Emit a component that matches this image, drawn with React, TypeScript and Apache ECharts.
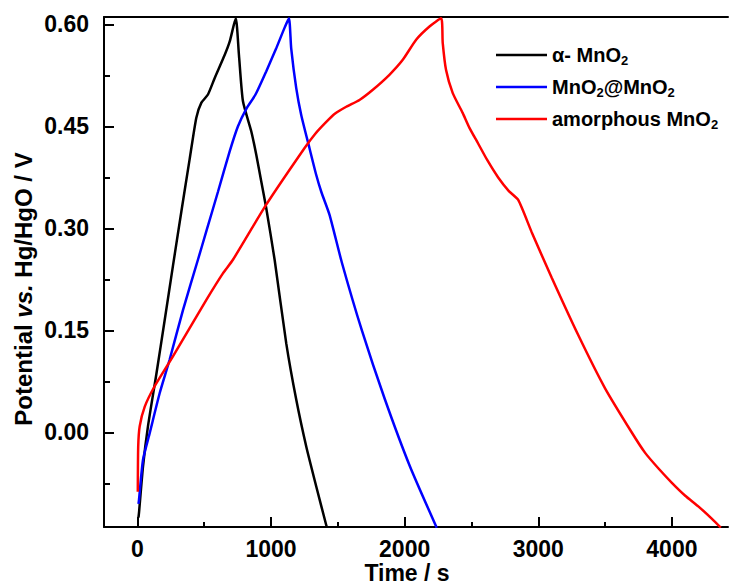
import React, { useEffect, useRef } from 'react';
import * as echarts from 'echarts';

// ---- data ----
const seriesNames = ['α- MnO2', 'MnO2@MnO2', 'amorphous MnO2'];
const seriesColors = ['#000000', '#0000ff', '#ff0000'];

const alphaTime = [8, 12, 42, 79, 142, 204, 266, 329, 391, 441, 479, 528, 578, 653, 691, 736, 760, 790, 852, 890, 927, 964, 1027, 1114, 1189, 1264, 1338, 1413, 1420];
const alphaPotential = [-0.125, -0.118, -0.05, 0.009, 0.086, 0.165, 0.245, 0.325, 0.402, 0.463, 0.485, 0.497, 0.521, 0.555, 0.575, 0.609, 0.555, 0.487, 0.443, 0.408, 0.369, 0.33, 0.254, 0.131, 0.048, -0.021, -0.079, -0.136, -0.14];

const coreShellTime = [8, 12, 42, 92, 167, 241, 341, 453, 516, 603, 690, 752, 815, 884, 964, 1039, 1101, 1134, 1151, 1189, 1226, 1288, 1338, 1376, 1438, 1530, 1680, 1850, 2040, 2240];
const coreShellPotential = [-0.105, -0.099, -0.04, -0.001, 0.058, 0.107, 0.18, 0.254, 0.296, 0.354, 0.413, 0.45, 0.476, 0.497, 0.531, 0.565, 0.595, 0.609, 0.565, 0.506, 0.467, 0.418, 0.379, 0.354, 0.32, 0.25, 0.15, 0.05, -0.05, -0.14];

const amorphousTime = [3, 6, 17, 55, 129, 266, 516, 640, 715, 964, 1250, 1330, 1410, 1480, 1563, 1662, 1762, 1886, 1986, 2086, 2186, 2273, 2285, 2310, 2360, 2434, 2485, 2550, 2620, 2700, 2780, 2850, 2950, 3100, 3300, 3500, 3700, 3800, 3900, 4000, 4100, 4200, 4300, 4366];
const amorphousPotential = [-0.087, -0.021, 0.009, 0.038, 0.068, 0.112, 0.195, 0.234, 0.254, 0.335, 0.418, 0.439, 0.456, 0.469, 0.479, 0.489, 0.504, 0.526, 0.548, 0.5775, 0.597, 0.609, 0.573, 0.533, 0.499, 0.47, 0.448, 0.425, 0.4, 0.375, 0.355, 0.342, 0.295, 0.228, 0.143, 0.065, 0.0, -0.03, -0.053, -0.074, -0.093, -0.109, -0.127, -0.14];

const xLabelValues = [0, 1000, 2000, 3000, 4000];
const xMinorValues = [500, 1500, 2500, 3500];
const yLabelValues = [0, 0.15, 0.3, 0.45, 0.6];
const yMinorValues = [-0.075, 0.075, 0.225, 0.375, 0.525];

const xMin = -250;
const xMax = 4420;
const yMin = -0.139;
const yMax = 0.611;

const zip = (t: number[], v: number[]) => t.map((x, i) => [x, v[i]]);

const legendRich: Record<string, string> = {
  'α- MnO2': 'α- MnO{s|2}',
  'MnO2@MnO2': 'MnO{s|2}@MnO{s|2}',
  'amorphous MnO2': 'amorphous MnO{s|2}',
};

export default function App() {
  const ref = useRef<HTMLDivElement>(null);
  useEffect(() => {
    if (!ref.current) return;
    const chart = echarts.init(ref.current, null, { renderer: 'svg' });
    const font = '"Liberation Sans", Arial, sans-serif';
    const axisLineStyle = { color: '#000', width: 2 };
    const gridRect = { left: 104, right: 2, top: 17, bottom: 58, containLabel: false, outerBoundsMode: 'none' };

    const option: any = {
      animation: false,
      backgroundColor: '#fff',
      grid: [gridRect, { ...gridRect }],
      legend: {
        orient: 'vertical',
        left: 491,
        top: 38,
        itemWidth: 51,
        itemHeight: 2.5,
        itemGap: 8,
        icon: 'rect',
        data: seriesNames,
        formatter: (name: string) => legendRich[name] || name,
        textStyle: {
          fontFamily: font,
          fontSize: 20,
          fontWeight: 'bold',
          color: '#000',
          lineHeight: 24,
          rich: {
            s: { fontFamily: font, fontSize: 13, fontWeight: 'bold', color: '#000', lineHeight: 14, verticalAlign: 'bottom' },
          },
        },
      },
      xAxis: [
        {
          type: 'value',
          gridIndex: 0,
          position: 'bottom',
          min: xMin,
          max: xMax,
          axisLine: { show: true, onZero: false, lineStyle: axisLineStyle },
          axisTick: { show: true, inside: true, length: 10, lineStyle: { width: 2, color: '#000' }, customValues: xLabelValues },
          axisLabel: {
            customValues: xLabelValues,
            formatter: (v: number) => String(v),
            fontFamily: font,
            fontSize: 23,
            fontWeight: 'bold',
            color: '#000',
            margin: 10,
          },
          splitLine: { show: false },
          name: 'Time / s',
          nameLocation: 'middle',
          nameGap: 34,
          nameMoveOverlap: false,
          nameTextStyle: { fontFamily: font, fontSize: 23, fontWeight: 'bold', color: '#000', lineHeight: 23, padding: [0, 18, 0, 0] },
        },
        {
          type: 'value',
          gridIndex: 0,
          position: 'top',
          min: xMin,
          max: xMax,
          axisLine: { show: true, onZero: false, lineStyle: axisLineStyle },
          axisTick: { show: false },
          axisLabel: { show: false },
          splitLine: { show: false },
        },
        {
          type: 'value',
          gridIndex: 1,
          position: 'bottom',
          min: xMin,
          max: xMax,
          axisLine: { show: false, onZero: false },
          axisTick: { show: true, inside: true, length: 5, lineStyle: { width: 2, color: '#000' }, customValues: xMinorValues },
          axisLabel: { show: false },
          splitLine: { show: false },
        },
      ],
      yAxis: [
        {
          type: 'value',
          gridIndex: 0,
          position: 'left',
          min: yMin,
          max: yMax,
          axisLine: { show: true, onZero: false, lineStyle: axisLineStyle },
          axisTick: { show: true, inside: true, length: 10, lineStyle: { width: 2, color: '#000' }, customValues: yLabelValues },
          axisLabel: {
            customValues: yLabelValues,
            formatter: (v: number) => v.toFixed(2),
            fontFamily: font,
            fontSize: 23,
            fontWeight: 'bold',
            color: '#000',
            margin: 15,
          },
          splitLine: { show: false },
          name: 'Potential {i|vs.} Hg/HgO / V',
          nameLocation: 'middle',
          nameGap: 69,
          nameMoveOverlap: false,
          nameTextStyle: {
            fontFamily: font,
            fontSize: 24,
            fontWeight: 'bold',
            color: '#000',
            padding: [0, 34, 0, 0],
            rich: {
              i: { fontFamily: font, fontSize: 24, fontWeight: 'bold', fontStyle: 'italic', color: '#000' },
            },
          },
        },
        {
          type: 'value',
          gridIndex: 1,
          position: 'left',
          min: yMin,
          max: yMax,
          axisLine: { show: false, onZero: false },
          axisTick: { show: true, inside: true, length: 6, lineStyle: { width: 2, color: '#000' }, customValues: yMinorValues },
          axisLabel: { show: false },
          splitLine: { show: false },
        },
      ],
      series: [
        { name: seriesNames[0], data: zip(alphaTime, alphaPotential), color: seriesColors[0] },
        { name: seriesNames[1], data: zip(coreShellTime, coreShellPotential), color: seriesColors[1] },
        { name: seriesNames[2], data: zip(amorphousTime, amorphousPotential), color: seriesColors[2] },
      ].map((s) => ({
        ...s,
        type: 'line',
        xAxisIndex: 0,
        yAxisIndex: 0,
        symbol: 'none',
        showSymbol: false,
        smooth: 0.2,
        clip: true,
        lineStyle: { width: 2.5, color: s.color },
        itemStyle: { color: s.color },
      })),
    };
    chart.setOption(option);
    return () => chart.dispose();
  }, []);
  return <div ref={ref} style={{ position: 'fixed', left: 0, top: 0, width: 730, height: 585 }} />;
}
